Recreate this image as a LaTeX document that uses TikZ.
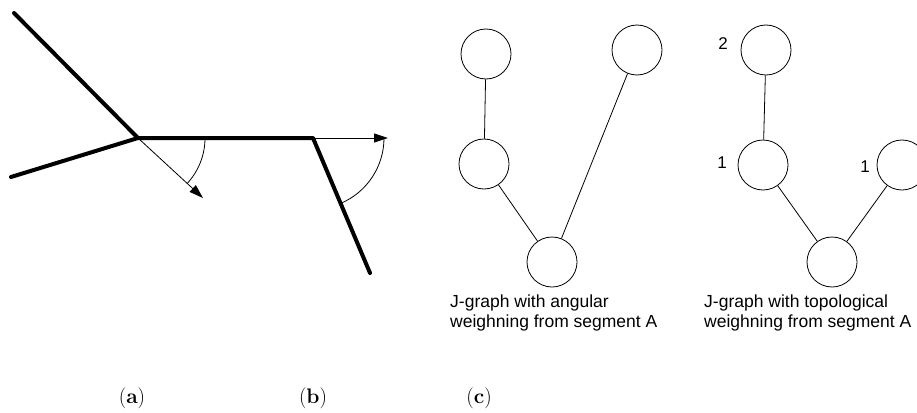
\documentclass[tikz,border=0pt]{standalone}
\usepackage{fontspec}
\setmainfont{Latin Modern Roman}
\newfontfamily\labelfont{Liberation Sans}
\usetikzlibrary{arrows.meta}
\begin{document}
\begin{tikzpicture}[x=1pt,y=-1pt,
  seg/.style={line width=4pt,line cap=round,line join=round},
  thinarrow/.style={line width=0.8pt,-{Triangle[length=14pt,width=9pt]}},
  anglearc/.style={line width=0.8pt},
  vert/.style={circle,draw,line width=0.8pt,minimum size=50pt,inner sep=0pt},
  link/.style={line width=0.8pt},
  lbl/.style={font=\labelfont\fontsize{17.5}{20}\selectfont,inner sep=0pt},
  num/.style={font=\labelfont\fontsize{17}{20}\selectfont,inner sep=0pt},
  captext/.style={font=\fontsize{21}{24}\selectfont,inner sep=0pt}]
\useasboundingbox (0,0) rectangle (917,412);
% panel (a)
\coordinate (p1) at (14,13);
\coordinate (p2) at (11,177);
\coordinate (j1) at (138,138);
\coordinate (j2) at (313,138);
\coordinate (p3) at (370,273);
\coordinate (t1) at (203,198);
\coordinate (t2) at (388,138);
\draw[seg] (p1) -- (j1) -- (j2) -- (p3);
\draw[seg] (p2) -- (j1);
\draw[thinarrow] (j1) -- (t1);
\draw[thinarrow] (j2) -- (t2);
\draw[anglearc] ([xshift=67pt]j1) arc[start angle=0,end angle=-42.7,radius=67pt];
\draw[anglearc] ([xshift=71pt]j2) arc[start angle=0,end angle=-67,radius=71pt];
% panel (b)
\node[vert] (b1) at (486,54) {};
\node[vert] (b2) at (637,50) {};
\node[vert] (b3) at (484,164) {};
\node[vert] (b4) at (552,262) {};
\draw[link] (b1) -- (b3);
\draw[link] (b3) -- (b4);
\draw[link] (b4) -- (b2);
\node[lbl,anchor=base west,align=left] (bt) at (450,327) {J-graph with angular\\weighning from segment A};
% panel (c)
\node[vert] (c1) at (766,50) {};
\node[vert] (c2) at (763,165) {};
\node[vert] (c3) at (902,165) {};
\node[vert] (c4) at (832,262) {};
\draw[link] (c1) -- (c2);
\draw[link] (c2) -- (c4);
\draw[link] (c4) -- (c3);
\node[num] (n2) at (723,44) {2};
\node[num] (n1a) at (722,163) {1};
\node[num] (n1b) at (865,167) {1};
\node[lbl,anchor=base west,align=left] (ct) at (704,327) {J-graph with topological\\weighning from segment A};
% captions
\node[captext] (ca) at (132,398) {(\textbf{a})};
\node[captext] (cb) at (313,398) {(\textbf{b})};
\node[captext] (cc) at (479,398) {(\textbf{c})};
\end{tikzpicture}
\end{document}
